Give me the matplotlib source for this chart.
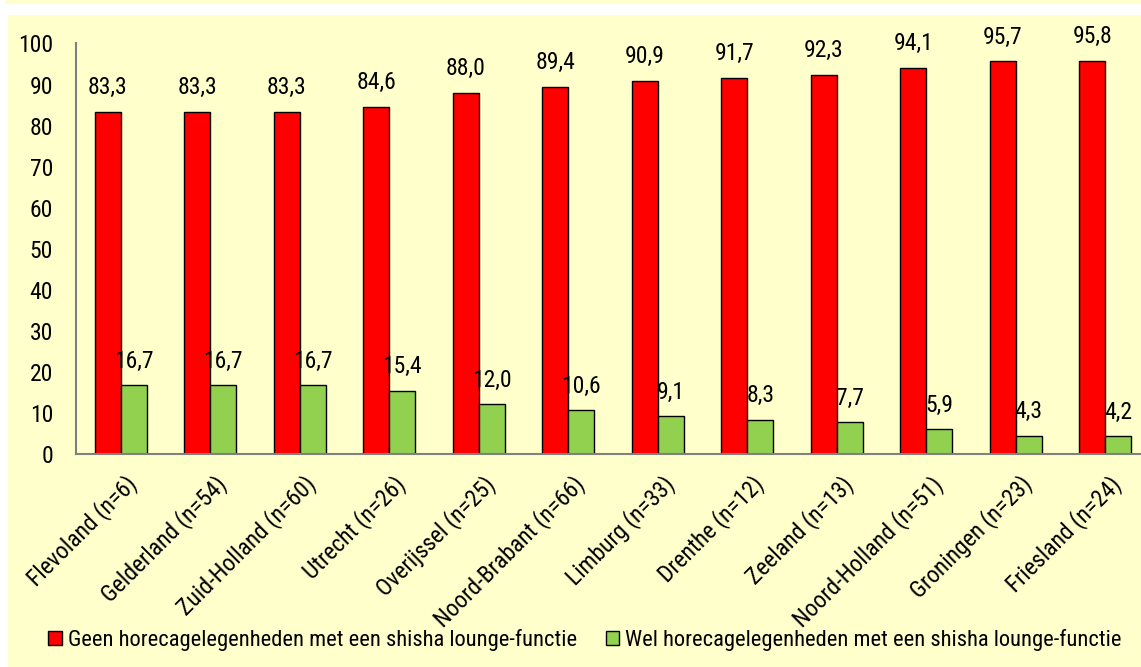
import matplotlib.pyplot as plt
from matplotlib.patches import Rectangle
from matplotlib.transforms import ScaledTranslation
import numpy as np

provinces = ["Flevoland (n=6)", "Gelderland (n=54)", "Zuid-Holland (n=60)", "Utrecht (n=26)",
             "Overijssel (n=25)", "Noord-Brabant (n=66)", "Limburg (n=33)", "Drenthe (n=12)",
             "Zeeland (n=13)", "Noord-Holland (n=51)", "Groningen (n=23)", "Friesland (n=24)"]
geen = [83.3, 83.3, 83.3, 84.6, 88.0, 89.4, 90.9, 91.7, 92.3, 94.1, 95.7, 95.8]
wel = [16.7, 16.7, 16.7, 15.4, 12.0, 10.6, 9.1, 8.3, 7.7, 5.9, 4.3, 4.2]
series_names = ["Geen horecagelegenheden met een shisha lounge-functie",
                "Wel horecagelegenheden met een shisha lounge-functie"]

plt.rcParams['font.family'] = ['Roboto Condensed', 'Liberation Sans', 'DejaVu Sans']
bg = '#FFFFCC'
fs = 17

W, H = 1141, 667
fig = plt.figure(figsize=(W / 100, H / 100), dpi=100, facecolor='white')

# background panels (pixel coords -> figure fraction)
fig.patches.append(Rectangle((5 / W, 1 - 4 / H), 1, 4 / H, transform=fig.transFigure,
                             facecolor=bg, edgecolor='none', zorder=-10))
fig.patches.append(Rectangle((8 / W, 0), 1, 1 - 15 / H, transform=fig.transFigure,
                             facecolor=bg, edgecolor='none', zorder=-10))

ax = fig.add_axes([76 / W, (H - 453.7) / H, (1150 - 76) / W, (453.7 - 43.5) / H])
ax.set_facecolor(bg)

x = np.arange(len(provinces))
bw = 0.29
b1 = ax.bar(x - bw / 2, geen, bw, color='#FF0000', edgecolor='black', linewidth=1.0,
            label=series_names[0])
b2 = ax.bar(x + bw / 2, wel, bw, color='#92D050', edgecolor='black', linewidth=1.0,
            label=series_names[1])

for bars, vals in ((b1, geen), (b2, wel)):
    for r, v in zip(bars, vals):
        ax.annotate(f"{v:.1f}".replace('.', ','), xy=(r.get_x() + r.get_width() / 2, v),
                    xytext=(0, 12.7), textcoords='offset points',
                    ha='center', va='baseline', fontsize=fs)

ax.set_xlim(-0.5, len(provinces) - 0.5)
ax.set_ylim(0, 100)
ax.set_yticks(range(0, 101, 10))
ax.tick_params(axis='y', length=0, pad=16.5, labelsize=fs)
ax.tick_params(axis='x', length=0, pad=13, labelsize=fs)

ax.set_xticks(x)
ax.set_xticklabels(provinces, rotation=45, ha='right', va='top', rotation_mode='anchor')
for lbl in ax.get_xticklabels():
    lbl.set_transform(lbl.get_transform() + ScaledTranslation(0.04, 0, fig.dpi_scale_trans))

for s in ('top', 'right'):
    ax.spines[s].set_visible(False)
for s in ('left', 'bottom'):
    ax.spines[s].set_color('#808080')
    ax.spines[s].set_linewidth(1.5)

fig.legend(loc='center', bbox_to_anchor=(585 / W, 1 - 640 / H), ncol=2, frameon=False,
           fontsize=16.2, handlelength=0.6, handleheight=0.6, handletextpad=0.25,
           columnspacing=1.3)

plt.savefig('out.png', dpi=100, facecolor='white')
